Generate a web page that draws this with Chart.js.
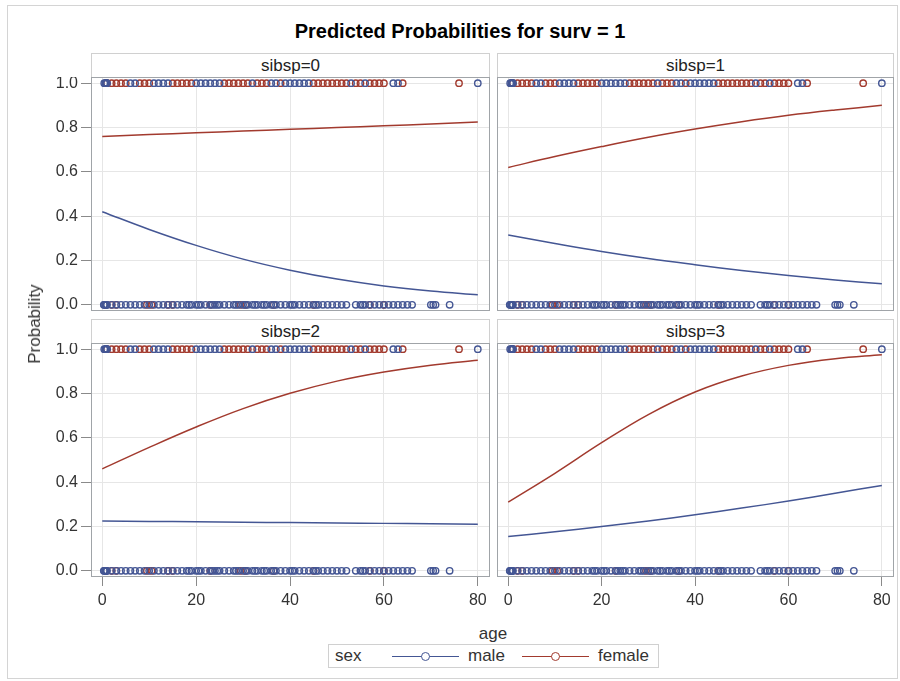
<!doctype html>
<html>
<head>
<title>Predicted Probabilities for surv = 1</title>
<script src="https://cdn.jsdelivr.net/npm/chart.js@4/dist/chart.umd.min.js"></script>
<style>
	body { margin:0; background:#fff; font-family:"Liberation Sans", Arial, sans-serif; color:#333; }
	#page { position:relative; width:900px; height:681px; overflow:hidden; }
	#outer { position:absolute; left:7px; top:5px; width:891px; height:674px; border:1px solid #d4d4d4; box-sizing:border-box; }
	#title { position:absolute; left:260px; width:400px; top:21px; line-height:20px; text-align:center; font-weight:bold; font-size:20px; color:#000; }
	.hdr { position:absolute; height:24px; border:1px solid #d0d0d0; border-bottom:none; box-sizing:border-box; text-align:center; font-size:17px; line-height:23px; color:#222; }
	.cv { position:absolute; display:block; }
	#ylab { position:absolute; left:35px; top:324px; transform:translate(-50%,-50%) rotate(-90deg); font-size:17px; white-space:nowrap; }
	#xlab { position:absolute; left:393px; width:200px; top:624px; text-align:center; font-size:17px; }
	#legend { position:absolute; left:328px; top:644px; width:331px; height:24px; border:1px solid #d0d0d0; box-sizing:border-box; font-size:17px; }
	.lt { position:absolute; top:1px; }
	.ll { position:absolute; top:11px; height:1px; width:67px; }
	.lc { position:absolute; top:7px; width:9px; height:9px; border-radius:50%; border:1px solid; box-sizing:border-box; background:#fff; }
</style>
</head>
<body>
<div id="page">
	<div id="outer"></div>
	<div id="title">Predicted Probabilities for surv = 1</div>
	<div class="hdr" style="left:91px;top:53px;width:399px">sibsp=0</div>
	<div class="hdr" style="left:497px;top:53px;width:397px">sibsp=1</div>
	<div class="hdr" style="left:91px;top:319px;width:399px">sibsp=2</div>
	<div class="hdr" style="left:497px;top:319px;width:397px">sibsp=3</div>
	<canvas class="cv" id="c0" width="460" height="234" style="left:30px;top:77px"></canvas>
	<canvas class="cv" id="c1" width="397" height="234" style="left:497px;top:77px"></canvas>
	<canvas class="cv" id="c2" width="460" height="268" style="left:30px;top:343px"></canvas>
	<canvas class="cv" id="c3" width="397" height="268" style="left:497px;top:343px"></canvas>
	<div id="ylab">Probability</div>
	<div id="xlab">age</div>
	<div id="legend">
		<span class="lt" style="left:6px">sex</span>
		<div class="ll" style="left:63px;background:#445694"></div>
		<div class="lc" style="left:92px;border-color:#445694"></div>
		<span class="lt" style="left:139px">male</span>
		<div class="ll" style="left:193px;background:#A23A2E"></div>
		<div class="lc" style="left:222px;border-color:#A23A2E"></div>
		<span class="lt" style="left:269px">female</span>
	</div>
</div>
<script>
// observed ages (same points shown in every panel)
var maleSurvAges = [0.42, 0.67, 0.83, 0.92, 1, 6, 7, 11, 12, 13, 14, 20, 21, 22, 23, 24, 25, 32, 36, 37, 39, 40, 41, 42, 43, 44, 53, 56, 62, 63, 80];
var femaleSurvAges = [0.75, 1, 2, 3, 4, 5, 8, 9, 10, 15, 16, 17, 18, 19, 26, 27, 28, 29, 30, 31, 33, 34, 35, 38, 45, 46, 47, 48, 49, 50, 51, 52, 54, 55, 57, 58, 59, 60, 64, 76];
var maleDiedAges = [0.33, 0.42, 0.67, 0.75, 0.83, 0.92, 1, 2, 3, 4, 5, 6, 7, 8, 9, 10, 11, 12, 13, 14, 15, 16, 17, 18, 18.5, 19, 20, 20.5, 21, 22, 23, 23.5, 24, 24.5, 25, 26, 27, 28, 28.5, 29, 30, 30.5, 31, 32, 32.5, 33, 34, 34.5, 35, 36, 36.5, 37, 38, 39, 40, 40.5, 41, 42, 43, 44, 45, 45.5, 46, 47, 48, 49, 50, 51, 52, 54, 55, 55.5, 56, 57, 58, 59, 60, 61, 62, 63, 64, 65, 66, 70, 70.5, 71, 74];
var femaleDiedAges = [2, 3, 9.5, 10.5, 14, 15, 23, 29.5, 30.5, 36.5, 45, 57, 60];

// fitted curves
var curveAges = [0, 10, 20, 30, 40, 50, 60, 70, 80];
var panelNames = ["sibsp=0", "sibsp=1", "sibsp=2", "sibsp=3"];
var maleFit = [
	[0.42, 0.34, 0.268, 0.206, 0.156, 0.116, 0.085, 0.062, 0.045],
	[0.315, 0.277, 0.241, 0.209, 0.181, 0.155, 0.132, 0.112, 0.095],
	[0.225, 0.223, 0.221, 0.219, 0.218, 0.216, 0.214, 0.212, 0.21],
	[0.155, 0.176, 0.2, 0.225, 0.253, 0.283, 0.315, 0.35, 0.385]
];
var femaleFit = [
	[0.76, 0.768, 0.776, 0.784, 0.792, 0.8, 0.808, 0.816, 0.825],
	[0.62, 0.669, 0.714, 0.756, 0.793, 0.826, 0.855, 0.879, 0.9],
	[0.46, 0.557, 0.649, 0.732, 0.801, 0.856, 0.897, 0.928, 0.95],
	[0.31, 0.44, 0.578, 0.705, 0.807, 0.879, 0.927, 0.957, 0.975]
];
var xTicks = [0, 20, 40, 60, 80];
var yTicks = [0, 0.2, 0.4, 0.6, 0.8, 1.0];

var maleColor = "#445694";
var femaleColor = "#A23A2E";

var pts = function(ages, y){ return ages.map(function(a){ return {x:a, y:y}; }); };
var line = function(vals){ return curveAges.map(function(a, i){ return {x:a, y:vals[i]}; }); };

var framePlugin = {
	id: "frame",
	afterDraw: function(chart){
		var a = chart.chartArea, ctx = chart.ctx;
		ctx.save();
		ctx.strokeStyle = "#a0a4a8";
		ctx.lineWidth = 1;
		ctx.strokeRect(Math.round(a.left) + 0.5, Math.round(a.top) + 0.5, Math.round(a.right - a.left) - 1, Math.round(a.bottom - a.top) - 1);
		ctx.restore();
	}
};

var makePanel = function(idx){
	var left = idx % 2 == 0, bottom = idx >= 2;
	var scatter = function(ages, y, color){
		return { type:"scatter", data:pts(ages, y), borderColor:color, backgroundColor:"rgba(0,0,0,0)",
			pointRadius:3.2, pointBorderWidth:1.4, pointHoverRadius:3.2, showLine:false };
	};
	new Chart(document.getElementById("c" + idx), {
		type: "scatter",
		data: {
			datasets: [
				scatter(maleSurvAges, 1, maleColor),
				scatter(maleDiedAges, 0, maleColor),
				scatter(femaleSurvAges, 1, femaleColor),
				scatter(femaleDiedAges, 0, femaleColor),
				{ type:"line", data:line(maleFit[idx]), borderColor:maleColor, borderWidth:1.5, pointRadius:0, tension:0.4, fill:false },
				{ type:"line", data:line(femaleFit[idx]), borderColor:femaleColor, borderWidth:1.5, pointRadius:0, tension:0.4, fill:false }
			]
		},
		options: {
			responsive: false,
			animation: false,
			events: [],
			layout: { padding: 0, autoPadding: false },
			plugins: { legend: { display:false }, title: { display:false }, tooltip: { enabled:false } },
			scales: {
				x: {
					type: "linear", min: -2.4, max: 82.6,
					afterBuildTicks: function(s){ s.ticks = xTicks.map(function(v){ return {value:v}; }); },
					afterFit: function(s){ s.height = bottom ? 34 : 0; s.paddingLeft = 0; s.paddingRight = 0; },
					border: { display:false },
					grid: { color:"#e6e6e6", tickColor:"#8a8a8a", tickLength:9, drawTicks:bottom },
					ticks: { display:bottom, padding:5, maxRotation:0, color:"#333", font:{ family:"Liberation Sans, Arial", size:16 } }
				},
				y: {
					type: "linear", min: -0.028, max: 1.028,
					afterBuildTicks: function(s){ s.ticks = yTicks.map(function(v){ return {value:v}; }); },
					afterFit: function(s){ s.width = left ? 61 : 0; s.paddingTop = 0; s.paddingBottom = 0; },
					border: { display:false },
					grid: { color:"#e6e6e6", tickColor:"#8a8a8a", tickLength:10, drawTicks:left },
					ticks: { display:left, padding:3, color:"#333", font:{ family:"Liberation Sans, Arial", size:16 },
						callback: function(v){ return v.toFixed(1); } }
				}
			}
		},
		plugins: [framePlugin]
	});
};

for (var i = 0; i < panelNames.length; i++) makePanel(i);
</script>
</body>
</html>
